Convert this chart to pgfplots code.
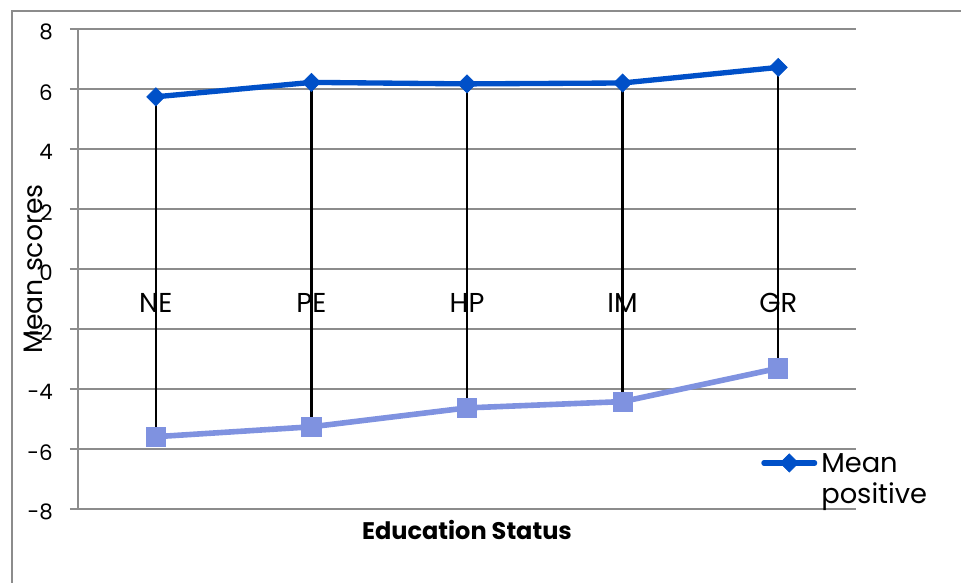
\documentclass[border=0pt]{standalone}
\usepackage{pgfplots}
\usepackage{pgfplotstable}
\pgfplotsset{compat=1.18}
\usepackage{fontspec}
\setmainfont{Poppins}

\definecolor{posblue}{HTML}{0050C8}
\definecolor{negblue}{HTML}{7F92E0}
\definecolor{gridgray}{HTML}{8C8C8C}

% mean positive / mean negative score by education status
\pgfplotstableread{
x  pos    neg
0  5.74  -5.59
1  6.22  -5.26
2  6.17  -4.63
3  6.20  -4.42
4  6.72  -3.31
}\scores

\begin{document}
\begin{tikzpicture}
\useasboundingbox (0,0) rectangle (720.75pt,437.25pt);
% chart frame
\draw[gridgray, line width=1pt] (720.75pt,429pt) -- (9pt,429pt) -- (9pt,0pt);
\begin{axis}[
  at={(58.5pt,55.5pt)}, anchor=south west,
  scale only axis, width=583.5pt, height=360pt,
  xmin=-0.5, xmax=4.5, ymin=-8, ymax=8,
  axis lines=left,
  axis line style={-, gridgray, line width=1pt},
  xtick={0,1,2,3,4},
  xticklabels={NE,PE,HP,IM,GR},
  x tick style={draw=none},
  ytick={-8,-6,...,8},
  tick align=outside,
  major tick length=6pt,
  y tick style={gridgray, line width=1pt},
  ymajorgrids,
  major grid style={gridgray, line width=1pt},
  /pgf/number format/assume math mode=true,
  yticklabel style={font=\fontsize{16}{19}\selectfont, anchor=east, inner sep=0pt, xshift=-12.75pt, yshift=-2.5pt},
  xticklabel style={font=\fontsize{20.5}{24}\selectfont, anchor=center, inner sep=0pt, yshift=160.5pt},
  xlabel={\bfseries Education Status},
  xlabel style={font=\fontsize{18}{22}\selectfont, at={(axis description cs:0.5,-0.04375)}, anchor=center},
  ylabel={Mean scores},
  ylabel style={font=\fontsize{20}{24}\selectfont, at={(axis description cs:-0.0578,0.5)}, anchor=center, rotate=0},
  clip=false,
  legend style={draw=none, fill=none, at={(axis description cs:0.8779,0.1222)}, anchor=north west,
    inner sep=0pt, column sep=3pt, nodes={inner sep=0pt},
    font=\fontsize{20.5}{23.25}\selectfont, cells={anchor=base west}},
  legend image code/.code={\draw[mark repeat=2, mark phase=2, yshift=7pt] plot coordinates {(2pt,0pt) (21pt,0pt) (40pt,0pt)};},
]
\addplot[negblue, line width=4.2pt, line cap=round, mark=square*, mark size=7.2pt,
  mark options={line width=0.5pt}, forget plot] table[x=x, y=neg] {\scores};
\addplot[posblue, line width=4pt, line cap=round, mark=square*, mark size=4.8pt,
  mark options={rotate=45, line width=0.5pt}] table[x=x, y=pos] {\scores};
\addlegendentry{\begin{tabular}[t]{@{}l@{}}Mean\\positive\end{tabular}}
% high-low lines between the two series
\addplot[draw=none, forget plot, error bars/.cd, y dir=minus, y explicit,
  error mark=none, error bar style={black, line width=1.7pt}]
  table[x=x, y=pos, y error expr=\thisrow{pos}-\thisrow{neg}] {\scores};
\end{axis}
\end{tikzpicture}
\end{document}
